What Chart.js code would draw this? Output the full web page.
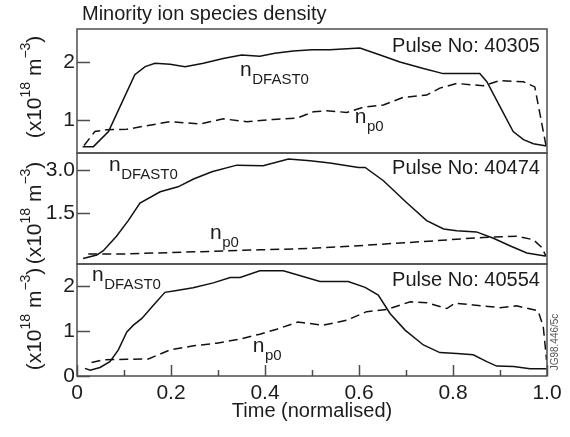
<!DOCTYPE html>
<html>
<head>
<meta charset="utf-8">
<script src="https://cdn.jsdelivr.net/npm/chart.js@4.4.1/dist/chart.umd.min.js"></script>
<style>
  html, body { margin: 0; padding: 0; background: #fff; }
  #wrap { position: relative; width: 570px; height: 437px; }
  #wrap canvas { position: absolute; left: 0; top: 0; }
</style>
</head>
<body>
<div id="wrap">
  <canvas id="panel40305" width="570" height="437"></canvas>
  <canvas id="panel40474" width="570" height="437"></canvas>
  <canvas id="panel40554" width="570" height="437"></canvas>
</div>
<script>
// ---- data ---------------------------------------------------------------
const timeMajorTicks = [0, 0.2, 0.4, 0.6, 0.8, 1.0];
const timeTickLabels = ['0', '0.2', '0.4', '0.6', '0.8', '1.0'];
const timeMinorTicks = [0.1, 0.3, 0.5, 0.7, 0.9];

// Pulse 40305
const fast40305Time    = [0.012, 0.035, 0.067, 0.095, 0.123, 0.145, 0.166, 0.198, 0.23, 0.269, 0.311, 0.35, 0.389, 0.421, 0.46, 0.50, 0.538, 0.602, 0.645, 0.687, 0.737, 0.779, 0.857, 0.872, 0.90, 0.928, 0.95, 0.971, 0.999];
const fast40305Density = [0.54, 0.54, 0.80, 1.29, 1.78, 1.92, 1.98, 1.96, 1.92, 1.98, 2.06, 2.12, 2.10, 2.15, 2.19, 2.21, 2.21, 2.24, 2.12, 2.00, 1.89, 1.80, 1.80, 1.66, 1.23, 0.80, 0.66, 0.59, 0.55];
const prot40305Time    = [0.015, 0.038, 0.063, 0.106, 0.148, 0.198, 0.233, 0.262, 0.311, 0.361, 0.418, 0.467, 0.503, 0.531, 0.574, 0.609, 0.652, 0.694, 0.744, 0.772, 0.808, 0.864, 0.90, 0.95, 0.974, 0.999];
const prot40305Density = [0.56, 0.80, 0.83, 0.84, 0.90, 0.97, 0.95, 0.93, 1.02, 0.97, 1.01, 1.03, 1.14, 1.16, 1.13, 1.22, 1.26, 1.39, 1.43, 1.55, 1.63, 1.59, 1.68, 1.66, 1.57, 0.51];
const ticks40305 = [1, 2];
const tickLabels40305 = ['1', '2'];

// Pulse 40474
const fast40474Time    = [0.013, 0.042, 0.056, 0.084, 0.109, 0.134, 0.177, 0.215, 0.248, 0.287, 0.34, 0.396, 0.45, 0.496, 0.538, 0.599, 0.613, 0.652, 0.701, 0.744, 0.78, 0.808, 0.85, 0.886, 0.921, 0.957, 0.996];
const fast40474Density = [-0.07, 0.05, 0.20, 0.70, 1.24, 1.85, 2.24, 2.41, 2.68, 2.93, 3.16, 3.14, 3.37, 3.31, 3.23, 3.08, 3.08, 2.62, 1.87, 1.24, 0.95, 0.89, 0.85, 0.63, 0.37, 0.12, 0.02];
const prot40474Time    = [0.024, 0.106, 0.248, 0.389, 0.496, 0.616, 0.758, 0.864, 0.935, 0.971, 0.989, 0.998];
const prot40474Density = [0.09, 0.09, 0.16, 0.23, 0.28, 0.39, 0.54, 0.66, 0.70, 0.58, 0.31, 0.00];
const ticks40474 = [1.5, 3.0];
const tickLabels40474 = ['1.5', '3.0'];

// Pulse 40554
const fast40554Time    = [0.017, 0.028, 0.049, 0.07, 0.088, 0.106, 0.12, 0.138, 0.163, 0.187, 0.212, 0.247, 0.29, 0.326, 0.347, 0.389, 0.439, 0.517, 0.577, 0.613, 0.641, 0.666, 0.698, 0.737, 0.772, 0.808, 0.843, 0.872, 0.893, 0.929, 0.964, 0.999];
const fast40554Density = [0.17, 0.13, 0.19, 0.32, 0.58, 0.98, 1.13, 1.28, 1.58, 1.86, 1.90, 1.96, 2.07, 2.19, 2.19, 2.34, 2.34, 2.10, 2.10, 1.97, 1.80, 1.39, 1.02, 0.69, 0.52, 0.50, 0.47, 0.32, 0.22, 0.21, 0.16, 0.16];
const prot40554Time    = [0.031, 0.056, 0.106, 0.152, 0.198, 0.248, 0.297, 0.347, 0.389, 0.425, 0.47, 0.524, 0.574, 0.616, 0.659, 0.709, 0.744, 0.787, 0.804, 0.843, 0.90, 0.935, 0.981, 0.992, 0.999];
const prot40554Density = [0.30, 0.36, 0.37, 0.38, 0.58, 0.67, 0.73, 0.82, 0.93, 1.04, 1.20, 1.13, 1.24, 1.43, 1.48, 1.65, 1.63, 1.50, 1.62, 1.58, 1.52, 1.56, 1.45, 1.10, 0.36];
const ticks40554 = [0, 1, 2];
const tickLabels40554 = ['0', '1', '2'];

// ---- styling / layout ---------------------------------------------------
const FONT = "'Liberation Sans', Arial, Helvetica, sans-serif";
const INK = '#111111';
const TEXT = '#1c1c1c';
const FRAME = '#4d4d4d';
const W = 570, H = 437;
const PLOT_LEFT = 77, PLOT_RIGHT = 547;

function series(t, v) { return t.map((x, i) => ({ x: x, y: v[i] })); }

// Panel frame plus inward-pointing tick marks
function framePlugin(cfg) {
  return {
    id: 'panelFrame',
    afterDatasetsDraw(chart) {
      const { ctx, chartArea: a } = chart;
      const xs = chart.scales.x, ys = chart.scales.y;
      ctx.save();
      ctx.strokeStyle = FRAME;
      ctx.lineWidth = 1.5;
      ctx.strokeRect(a.left, a.top, a.right - a.left, a.bottom - a.top);
      ctx.beginPath();
      ys.ticks.forEach(t => {
        const py = Math.round(ys.getPixelForValue(t.value)) + 0.5;
        ctx.moveTo(a.left, py); ctx.lineTo(a.left + 13, py);
      });
      if (cfg.showTime) {
        timeMajorTicks.forEach(v => {
          const px = Math.round(xs.getPixelForValue(v)) + 0.5;
          ctx.moveTo(px, a.bottom); ctx.lineTo(px, a.bottom - 11);
        });
        timeMinorTicks.forEach(v => {
          const px = Math.round(xs.getPixelForValue(v)) + 0.5;
          ctx.moveTo(px, a.bottom); ctx.lineTo(px, a.bottom - 6);
        });
      }
      ctx.stroke();
      ctx.restore();
    }
  };
}

// Rotated text made of [string, isSuperscript] runs
function drawRotatedRuns(ctx, runs, baseX, centerY, mainSize, supSize, supRaise) {
  let total = 0;
  runs.forEach(r => {
    ctx.font = (r[1] ? supSize : mainSize) + 'px ' + FONT;
    total += ctx.measureText(r[0]).width;
  });
  ctx.save();
  ctx.translate(baseX, centerY);
  ctx.rotate(-Math.PI / 2);
  ctx.textAlign = 'left';
  ctx.textBaseline = 'alphabetic';
  let x = -total / 2;
  runs.forEach(r => {
    ctx.font = (r[1] ? supSize : mainSize) + 'px ' + FONT;
    ctx.fillText(r[0], x, r[1] ? -supRaise : 0);
    x += ctx.measureText(r[0]).width;
  });
  ctx.restore();
}

const unitRuns = [['(x10', false], ['18', true], [' m', false], ['\u22123', true], [')', false]];

function textPlugin(cfg) {
  return {
    id: 'panelText',
    afterDraw(chart) {
      const { ctx } = chart;
      const xs = chart.scales.x, ys = chart.scales.y;
      ctx.save();
      ctx.fillStyle = TEXT;
      ctx.textBaseline = 'alphabetic';

      ctx.font = '20px ' + FONT;
      ctx.textAlign = 'right';
      ctx.fillText(cfg.pulse.text, xs.getPixelForValue(cfg.pulse.x), ys.getPixelForValue(cfg.pulse.y));

      ctx.textAlign = 'left';
      cfg.species.forEach(l => {
        const x = xs.getPixelForValue(l.x), y = ys.getPixelForValue(l.y);
        ctx.font = '21px ' + FONT;
        ctx.fillText('n', x, y);
        const w = ctx.measureText('n').width;
        ctx.font = '15px ' + FONT;
        ctx.fillText(l.sub, x + w + 0.5, y + 8);
      });

      drawRotatedRuns(ctx, unitRuns, 41, cfg.unitCenterY, 21, 14, 11);

      if (cfg.heading) {
        ctx.font = '20px ' + FONT;
        ctx.textAlign = 'left';
        ctx.fillText(cfg.heading, 82, 20);
      }
      if (cfg.stamp) {
        ctx.fillStyle = '#555555';
        ctx.save();
        ctx.translate(558, 342);
        ctx.rotate(-Math.PI / 2);
        ctx.font = '10px ' + FONT;
        ctx.textAlign = 'center';
        ctx.fillText(cfg.stamp, 0, 0);
        ctx.restore();
      }
      ctx.restore();
    }
  };
}

function makePanel(canvasId, cfg) {
  return new Chart(document.getElementById(canvasId), {
    type: 'line',
    data: {
      datasets: [
        { data: series(cfg.fastT, cfg.fastV), borderColor: INK, borderWidth: 1.5,
          pointRadius: 0, tension: 0, fill: false },
        { data: series(cfg.protT, cfg.protV), borderColor: INK, borderWidth: 1.5,
          borderDash: [9, 5], pointRadius: 0, tension: 0, fill: false }
      ]
    },
    options: {
      responsive: false,
      animation: false,
      events: [],
      layout: { padding: { left: 0, right: W - PLOT_RIGHT, top: cfg.top, bottom: cfg.showTime ? 0 : H - cfg.bottom } },
      plugins: { legend: { display: false }, tooltip: { enabled: false } },
      scales: {
        x: {
          type: 'linear', min: 0, max: 1,
          display: cfg.showTime,
          afterBuildTicks: s => { s.ticks = timeMajorTicks.map(v => ({ value: v })); },
          afterFit: s => { if (cfg.showTime) { s.height = H - cfg.bottom; } },
          grid: { drawOnChartArea: false, drawTicks: false },
          border: { display: false },
          ticks: {
            autoSkip: false, maxRotation: 0, padding: 5,
            color: TEXT, font: { family: FONT, size: 21 },
            callback: (v, i) => timeTickLabels[i]
          },
          title: {
            display: true, text: 'Time (normalised)', color: TEXT,
            font: { family: FONT, size: 20 }, padding: { top: 0, bottom: 14 }
          }
        },
        y: {
          type: 'linear', min: cfg.yMin, max: cfg.yMax,
          afterBuildTicks: s => { s.ticks = cfg.yTicks.map(v => ({ value: v })); },
          afterFit: s => { s.width = PLOT_LEFT; },
          grid: { drawOnChartArea: false, drawTicks: false },
          border: { display: false },
          ticks: {
            padding: 2, color: TEXT, font: { family: FONT, size: 21 },
            callback: (v, i) => cfg.yLabels[i]
          }
        }
      }
    },
    plugins: [framePlugin(cfg), textPlugin(cfg)]
  });
}

makePanel('panel40305', {
  top: 29, bottom: 153, showTime: false,
  yMin: 0.43, yMax: 2.57, yTicks: ticks40305, yLabels: tickLabels40305,
  fastT: fast40305Time, fastV: fast40305Density, protT: prot40305Time, protV: prot40305Density,
  pulse: { text: 'Pulse No: 40305', x: 0.985, y: 2.17 },
  species: [{ sub: 'DFAST0', x: 0.347, y: 1.76 }, { sub: 'p0', x: 0.591, y: 0.95 }],
  unitCenterY: 87,
  heading: 'Minority ion species density'
});

makePanel('panel40474', {
  top: 153, bottom: 264, showTime: false,
  yMin: -0.26, yMax: 3.58, yTicks: ticks40474, yLabels: tickLabels40474,
  fastT: fast40474Time, fastV: fast40474Density, protT: prot40474Time, protV: prot40474Density,
  pulse: { text: 'Pulse No: 40474', x: 0.985, y: 2.85 },
  species: [{ sub: 'DFAST0', x: 0.068, y: 2.95 }, { sub: 'p0', x: 0.283, y: 0.60 }],
  unitCenterY: 213
});

makePanel('panel40554', {
  top: 264, bottom: 376, showTime: true,
  yMin: 0, yMax: 2.49, yTicks: ticks40554, yLabels: tickLabels40554,
  fastT: fast40554Time, fastV: fast40554Density, protT: prot40554Time, protV: prot40554Density,
  pulse: { text: 'Pulse No: 40554', x: 0.985, y: 2.0 },
  species: [{ sub: 'DFAST0', x: 0.032, y: 2.11 }, { sub: 'p0', x: 0.374, y: 0.53 }],
  unitCenterY: 319,
  stamp: 'JG98.446/5c'
});
</script>
</body>
</html>
